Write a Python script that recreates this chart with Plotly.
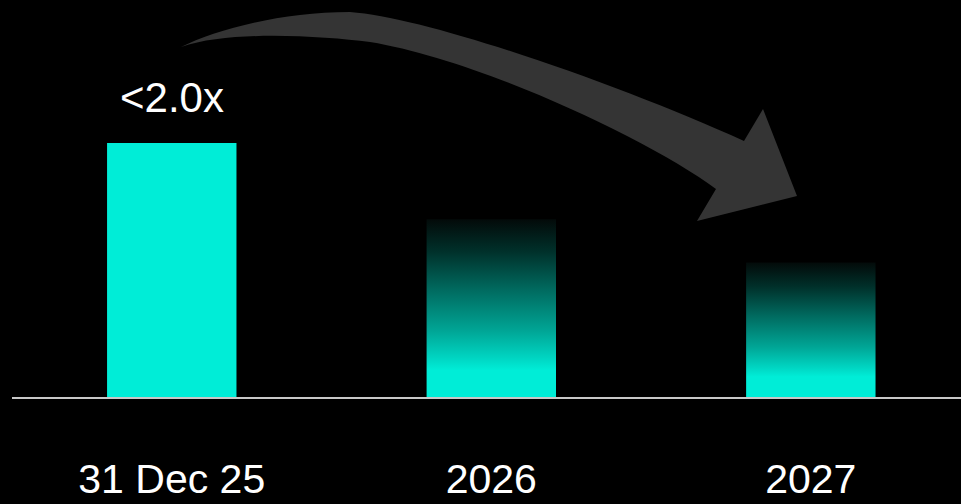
import plotly.graph_objects as go

# ---- data ----
categories = ["31 Dec 25", "2026", "2027"]
values = [2.0, 1.4, 1.06]
value_labels = ["<2.0x", "", ""]
gradient_bars = [False, True, True]

# ---- style ----
CYAN = "#00EDD7"
BG = "#000000"
FONT = "Liberation Sans, Arial, sans-serif"
BAR_W = 0.405
W, H = 961, 504
M_L, M_R, M_T, M_B = 12, 0, 0, 107
X_RANGE = [-0.5, 2.47]
Y_RANGE = [0, 3.126]

positions = list(range(len(categories)))

fig = go.Figure()

# base bars (gradient bars drawn transparent, then overlaid with gradient fills)
fig.add_trace(go.Bar(
    x=positions, y=values, width=BAR_W,
    marker=dict(color=[("rgba(0,0,0,0)" if g else CYAN) for g in gradient_bars], line=dict(width=0)),
    hoverinfo="skip", showlegend=False,
))

grad_scale = [[0.0, CYAN], [0.15, CYAN], [0.22, "#00d5c2"], [0.37, "#00a696"],
              [0.60, "#006b60"], [0.82, "#00302a"], [1.0, "#030a09"]]
for p, v, g in zip(positions, values, gradient_bars):
    if not g:
        continue
    x0, x1 = p - BAR_W / 2, p + BAR_W / 2
    fig.add_trace(go.Scatter(
        x=[x0, x1, x1, x0, x0], y=[0, 0, v, v, 0],
        mode="none", fill="toself",
        fillgradient=dict(type="vertical", colorscale=grad_scale, start=0, stop=v),
        hoverinfo="skip", showlegend=False,
    ))

for p, v, lab in zip(positions, values, value_labels):
    if lab:
        fig.add_annotation(x=p, y=v, text=lab.replace("<", "&lt;"), showarrow=False,
                           yanchor="bottom", yshift=20,
                           font=dict(family=FONT, size=42, color="white"))

# curved decorative arrow (pixel coords converted to paper fractions)
pw = W - M_L - M_R
ph = H - M_T - M_B


def P(px, py):
    return f"{(px - M_L) / pw:.5f},{(ph + M_T - py) / ph:.5f}"


path = (
    f"M {P(181,47)} "
    f"C {P(215,30)} {P(280,12)} {P(350,12)} "
    f"C {P(430,18)} {P(620,85)} {P(744,141)} "
    f"L {P(763,109)} L {P(797,196)} L {P(697,221)} L {P(716,189)} "
    f"C {P(650,140)} {P(480,60)} {P(370,42)} "
    f"C {P(320,36)} {P(230,30)} {P(181,47)} Z"
)
fig.add_shape(type="path", path=path, xref="paper", yref="paper",
              fillcolor="#343434", line=dict(width=0), layer="below")

fig.update_layout(
    width=W, height=H,
    margin=dict(l=M_L, r=M_R, t=M_T, b=M_B),
    paper_bgcolor=BG, plot_bgcolor=BG,
    showlegend=False,
    xaxis=dict(range=X_RANGE, tickvals=positions, ticktext=categories,
               showgrid=False, zeroline=False, showline=True,
               linecolor="#c8c8c8", linewidth=2, ticks="",
               ticklabelstandoff=45, automargin=False,
               tickfont=dict(family=FONT, size=41, color="white"),
               fixedrange=True),
    yaxis=dict(range=Y_RANGE, visible=False, fixedrange=True, automargin=False),
)

fig.write_html(
    "out.html",
    config={"displayModeBar": False},
    post_script="document.body.style.margin='0';document.body.style.background='#000';"
                "document.documentElement.style.background='#000';",
)
